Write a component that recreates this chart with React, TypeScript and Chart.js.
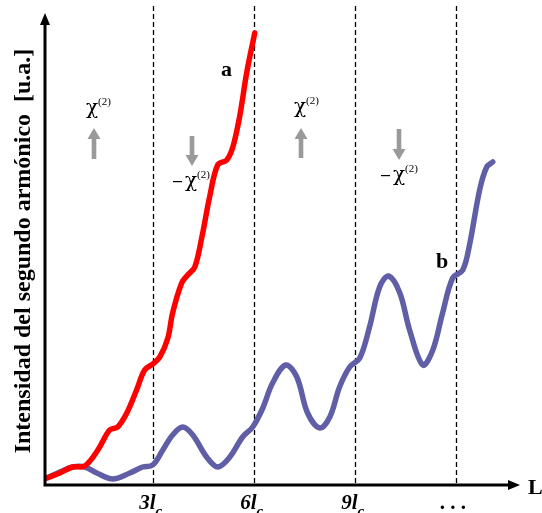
import React, { useEffect, useRef } from "react";
import { Chart, registerables } from "chart.js";

Chart.register(...registerables);

// x in units of l_c, y in arbitrary units
const redX = [-0.15, 0.24, 0.62, 0.98, 1.37, 1.72, 1.96, 2.23, 2.52, 2.76, 3.0, 3.21, 3.45, 3.59, 3.86, 4.04, 4.25, 4.46, 4.69, 4.93, 5.2, 5.38, 5.58, 5.79, 6.03];
const redY = [0.07, 0.12, 0.18, 0.19, 0.35, 0.55, 0.58, 0.72, 0.95, 1.15, 1.21, 1.28, 1.47, 1.72, 2.02, 2.1, 2.18, 2.48, 2.88, 3.2, 3.25, 3.38, 3.68, 4.12, 4.52];

const blueX = [-0.15, 0.24, 0.62, 0.98, 1.34, 1.81, 2.32, 2.7, 3.0, 3.3, 3.59, 3.89, 4.19, 4.6, 4.93, 5.29, 5.67, 5.97, 6.27, 6.56, 6.95, 7.28, 7.6, 7.96, 8.26, 8.55, 8.85, 9.15, 9.44, 9.74, 10.01, 10.34, 10.63, 11.02, 11.32, 11.61, 11.91, 12.21, 12.41, 12.71, 12.92, 13.1];
const blueY = [0.07, 0.13, 0.18, 0.18, 0.12, 0.06, 0.12, 0.18, 0.2, 0.35, 0.5, 0.58, 0.5, 0.28, 0.18, 0.28, 0.48, 0.58, 0.77, 1.02, 1.2, 1.08, 0.72, 0.57, 0.68, 0.98, 1.18, 1.27, 1.58, 1.98, 2.09, 1.92, 1.55, 1.2, 1.35, 1.72, 2.07, 2.15, 2.4, 2.95, 3.18, 3.23];

const tickPositions = [3, 6, 9, 12];
const tickMain = ["3l", "6l", "9l", ". . ."];
const tickSub = ["c", "c", "c", ""];

const yTitle = "Intensidad del segundo armónico  [u.a.]";
const xTitle = "L";

const SERIF = '"Liberation Serif", "DejaVu Serif", serif';

function drawChi(ctx: CanvasRenderingContext2D, x: number, y: number, neg: boolean) {
  ctx.save();
  ctx.fillStyle = "#000";
  ctx.textBaseline = "alphabetic";
  ctx.textAlign = "left";
  let cx = x;
  if (neg) {
    ctx.fillRect(cx, y - 6, 9, 1.2);
    cx += 12;
  }
  ctx.font = `20px "DejaVu Serif", serif`;
  ctx.fillText("χ", cx, y);
  cx += ctx.measureText("χ").width;
  ctx.font = `11px ${SERIF}`;
  ctx.fillText("(2)", cx, y - 9);
  ctx.restore();
}

function drawArrow(ctx: CanvasRenderingContext2D, x: number, yTail: number, yTip: number) {
  const dir = yTip < yTail ? -1 : 1;
  const headLen = 11;
  const headBase = yTip - dir * headLen;
  ctx.save();
  ctx.fillStyle = "#9a9a9a";
  ctx.fillRect(x - 2.3, Math.min(yTail, headBase), 4.6, Math.abs(headBase - yTail));
  ctx.beginPath();
  ctx.moveTo(x - 6.5, headBase);
  ctx.lineTo(x + 6.5, headBase);
  ctx.lineTo(x, yTip);
  ctx.closePath();
  ctx.fill();
  ctx.restore();
}

const overlay = {
  id: "overlay",
  beforeDatasetsDraw(chart: any) {
    const ctx: CanvasRenderingContext2D = chart.ctx;
    const xs = chart.scales.x;
    const { bottom } = chart.chartArea;
    ctx.save();
    ctx.strokeStyle = "#000";
    ctx.lineWidth = 1.3;
    ctx.setLineDash([5, 3]);
    tickPositions.forEach((v) => {
      const px = Math.round(xs.getPixelForValue(v)) + 0.5;
      ctx.beginPath();
      ctx.moveTo(px, 6);
      ctx.lineTo(px, bottom);
      ctx.stroke();
    });
    ctx.restore();
  },
  afterDatasetsDraw(chart: any) {
    const ctx: CanvasRenderingContext2D = chart.ctx;
    const xs = chart.scales.x;
    const { left, bottom } = chart.chartArea;
    ctx.save();
    // axes
    ctx.strokeStyle = "#000";
    ctx.fillStyle = "#000";
    ctx.lineWidth = 3;
    ctx.beginPath();
    ctx.moveTo(left, bottom + 1.5);
    ctx.lineTo(left, 22);
    ctx.moveTo(left - 1.5, bottom);
    ctx.lineTo(512, bottom);
    ctx.stroke();
    ctx.beginPath();
    ctx.moveTo(left - 5, 25);
    ctx.lineTo(left + 5, 25);
    ctx.lineTo(left, 13);
    ctx.closePath();
    ctx.fill();
    ctx.beginPath();
    ctx.moveTo(508, bottom - 5);
    ctx.lineTo(508, bottom + 5);
    ctx.lineTo(520, bottom);
    ctx.closePath();
    ctx.fill();

    // x title
    ctx.font = `bold 22px ${SERIF}`;
    ctx.textAlign = "left";
    ctx.textBaseline = "alphabetic";
    ctx.fillText(xTitle, 528, 494);

    // tick labels
    tickPositions.forEach((v, i) => {
      const px = xs.getPixelForValue(v);
      ctx.font = `italic bold 21px ${SERIF}`;
      const w1 = ctx.measureText(tickMain[i]).width;
      ctx.font = `italic bold 15px ${SERIF}`;
      const w2 = tickSub[i] ? ctx.measureText(tickSub[i]).width : 0;
      const start = px - (w1 + w2) / 2 - 2;
      ctx.font = `italic bold 21px ${SERIF}`;
      ctx.fillText(tickMain[i], start, 509);
      if (tickSub[i]) {
        ctx.font = `italic bold 15px ${SERIF}`;
        ctx.fillText(tickSub[i], start + w1, 516);
      }
    });

    // y title
    ctx.save();
    ctx.translate(30, 251);
    ctx.rotate(-Math.PI / 2);
    ctx.font = `bold 24px ${SERIF}`;
    ctx.textAlign = "center";
    ctx.fillText(yTitle, 0, 0);
    ctx.restore();

    // curve labels
    ctx.font = `bold 22px ${SERIF}`;
    ctx.textAlign = "left";
    ctx.fillText("a", 221, 76);
    ctx.fillText("b", 436, 268);

    // chi annotations
    drawChi(ctx, 86, 114, false);
    drawArrow(ctx, 94, 159, 128);
    drawChi(ctx, 173, 187, true);
    drawArrow(ctx, 192, 136, 166);
    drawChi(ctx, 294, 113, false);
    drawArrow(ctx, 301, 158, 128);
    drawChi(ctx, 381, 181, true);
    drawArrow(ctx, 399, 129, 160);
    ctx.restore();
  },
};

export default function App() {
  const ref = useRef<HTMLCanvasElement | null>(null);
  useEffect(() => {
    if (!ref.current) return;
    const chart = new Chart(ref.current, {
      type: "line",
      data: {
        datasets: [
          {
            label: "a",
            data: redX.map((x, i) => ({ x, y: redY[i] })),
            borderColor: "#ff0000",
            borderWidth: 5.5,
            pointRadius: 0,
            tension: 0.35,
            fill: false,
          },
          {
            label: "b",
            data: blueX.map((x, i) => ({ x, y: blueY[i] })),
            borderColor: "#5f5ea6",
            borderWidth: 5.5,
            pointRadius: 0,
            tension: 0.35,
            fill: false,
          },
        ],
      },
      options: {
        responsive: false,
        animation: false,
        layout: { padding: { left: 45, right: 24, top: 15, bottom: 28 } },
        scales: {
          x: { type: "linear", min: -0.2, max: 13.85, display: false },
          y: { type: "linear", min: 0, max: 4.7, display: false },
        },
        plugins: { legend: { display: false }, tooltip: { enabled: false } },
        elements: { line: { borderCapStyle: "round", borderJoinStyle: "round" } },
      },
      plugins: [overlay],
    } as any);
    return () => chart.destroy();
  }, []);
  return (
    <div style={{ position: "absolute", left: 0, top: 0, width: 542, height: 513, background: "#fff" }}>
      <canvas ref={ref} width={542} height={513} style={{ display: "block" }} />
    </div>
  );
}
